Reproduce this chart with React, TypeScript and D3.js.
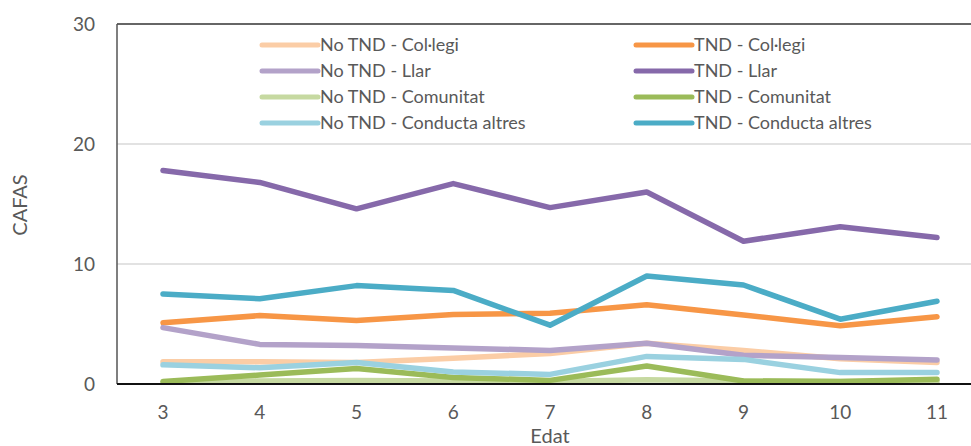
import { useEffect, useRef } from "react";
import * as d3 from "d3";

const ages = [3, 4, 5, 6, 7, 8, 9, 10, 11];
const yTicks = [0, 10, 20, 30];

const noTndCollegi = [1.85, 1.85, 1.8, 2.15, 2.55, 3.4, 2.8, 2.1, 1.8];
const tndCollegi = [5.1, 5.7, 5.3, 5.8, 5.9, 6.6, 5.75, 4.85, 5.6];
const noTndLlar = [4.7, 3.3, 3.2, 3.0, 2.8, 3.4, 2.4, 2.2, 2.0];
const tndLlar = [17.8, 16.8, 14.6, 16.7, 14.7, 16.0, 11.9, 13.1, 12.2];
const noTndComunitat = [0.15, 0.25, 0.3, 0.25, 0.2, 0.35, 0.25, 0.2, 0.2];
const tndComunitat = [0.2, 0.75, 1.3, 0.55, 0.3, 1.5, 0.25, 0.2, 0.4];
const noTndConducta = [1.6, 1.35, 1.8, 1.0, 0.8, 2.3, 2.05, 0.95, 0.95];
const tndConducta = [7.5, 7.1, 8.2, 7.8, 4.9, 9.0, 8.25, 5.4, 6.9];

const seriesNames = [
	"No TND - Col·legi",
	"TND - Col·legi",
	"No TND - Llar",
	"TND - Llar",
	"No TND - Comunitat",
	"TND - Comunitat",
	"No TND - Conducta altres",
	"TND - Conducta altres",
];
const seriesValues = [
	noTndCollegi,
	tndCollegi,
	noTndLlar,
	tndLlar,
	noTndComunitat,
	tndComunitat,
	noTndConducta,
	tndConducta,
];
const colors = [
	"#FBCDA6",
	"#F79646",
	"#B3A2C9",
	"#8669AA",
	"#C6D9A1",
	"#9BBB59",
	"#9AD1E0",
	"#4BACC6",
];

export default function App() {
	const svgRef = useRef<SVGSVGElement>(null);

	useEffect(() => {
		if (!svgRef.current) return;
		const svg = d3.select(svgRef.current);
		svg.selectAll("*").remove();

		const width = 971;
		const height = 446;
		const margin = { top: 24, left: 117, bottom: 62 };
		const font = "Lato, 'Open Sans', sans-serif";
		const textColor = "#595959";

		const x = d3.scalePoint<number>().domain(ages).range([163, 937]);
		const y = d3.scaleLinear().domain([0, 30]).range([height - margin.bottom, margin.top]);

		// gridlines
		svg.append("g")
			.selectAll("line")
			.data(yTicks.filter(t => t > 0 && t < 30))
			.enter()
			.append("line")
			.attr("x1", margin.left)
			.attr("x2", width)
			.attr("y1", d => y(d))
			.attr("y2", d => y(d))
			.attr("stroke", "#D9D9D9")
			.attr("stroke-width", 1.5);

		// frame
		svg.append("line")
			.attr("x1", margin.left).attr("x2", width)
			.attr("y1", y(30)).attr("y2", y(30))
			.attr("stroke", "#333").attr("stroke-width", 1.5);
		svg.append("line")
			.attr("x1", margin.left).attr("x2", margin.left)
			.attr("y1", y(30)).attr("y2", y(0))
			.attr("stroke", "#555").attr("stroke-width", 1.5);

		// y tick labels
		svg.append("g")
			.selectAll("text")
			.data(yTicks)
			.enter()
			.append("text")
			.attr("x", 95)
			.attr("y", d => y(d))
			.attr("dy", "0.35em")
			.attr("text-anchor", "end")
			.attr("font-family", font)
			.attr("font-size", 19)
			.attr("fill", textColor)
			.text(d => d);

		// x tick labels
		svg.append("g")
			.selectAll("text")
			.data(ages)
			.enter()
			.append("text")
			.attr("x", d => x(d) ?? 0)
			.attr("y", 419)
			.attr("text-anchor", "middle")
			.attr("font-family", font)
			.attr("font-size", 19)
			.attr("fill", textColor)
			.text(d => d);

		// axis titles
		svg.append("text")
			.attr("x", 550)
			.attr("y", 443)
			.attr("text-anchor", "middle")
			.attr("font-family", font)
			.attr("font-size", 20)
			.attr("fill", textColor)
			.text("Edat");
		svg.append("text")
			.attr("transform", `translate(27,205) rotate(-90)`)
			.attr("text-anchor", "middle")
			.attr("font-family", font)
			.attr("font-size", 20)
			.attr("fill", textColor)
			.text("CAFAS");

		// lines
		const line = d3.line<number>()
			.x((_, i) => x(ages[i]) ?? 0)
			.y(d => y(d));

		svg.append("g")
			.selectAll("path")
			.data(seriesValues)
			.enter()
			.append("path")
			.attr("d", d => line(d))
			.attr("fill", "none")
			.attr("stroke", (_, i) => colors[i])
			.attr("stroke-width", 5.5)
			.attr("stroke-linejoin", "round")
			.attr("stroke-linecap", "round");

		// bottom axis line on top
		svg.append("line")
			.attr("x1", margin.left).attr("x2", width)
			.attr("y1", y(0)).attr("y2", y(0))
			.attr("stroke", "#111").attr("stroke-width", 2);

		// legend
		const legend = svg.append("g");
		const items = legend.selectAll("g")
			.data(seriesNames)
			.enter()
			.append("g")
			.attr("transform", (_, i) => `translate(${i % 2 === 0 ? 262 : 636},${45 + Math.floor(i / 2) * 26})`);
		items.append("line")
			.attr("x1", 0).attr("x2", 56)
			.attr("y1", 0).attr("y2", 0)
			.attr("stroke", (_, i) => colors[i])
			.attr("stroke-width", 5)
			.attr("stroke-linecap", "round");
		items.append("text")
			.attr("x", 58)
			.attr("y", 0)
			.attr("dy", "0.35em")
			.attr("font-family", font)
			.attr("font-size", 18)
			.attr("fill", textColor)
			.text(d => d);
	}, []);

	return (
		<svg
			ref={svgRef}
			width={971}
			height={446}
			style={{ position: "absolute", left: 0, top: 0, background: "#fff" }}
		/>
	);
}
